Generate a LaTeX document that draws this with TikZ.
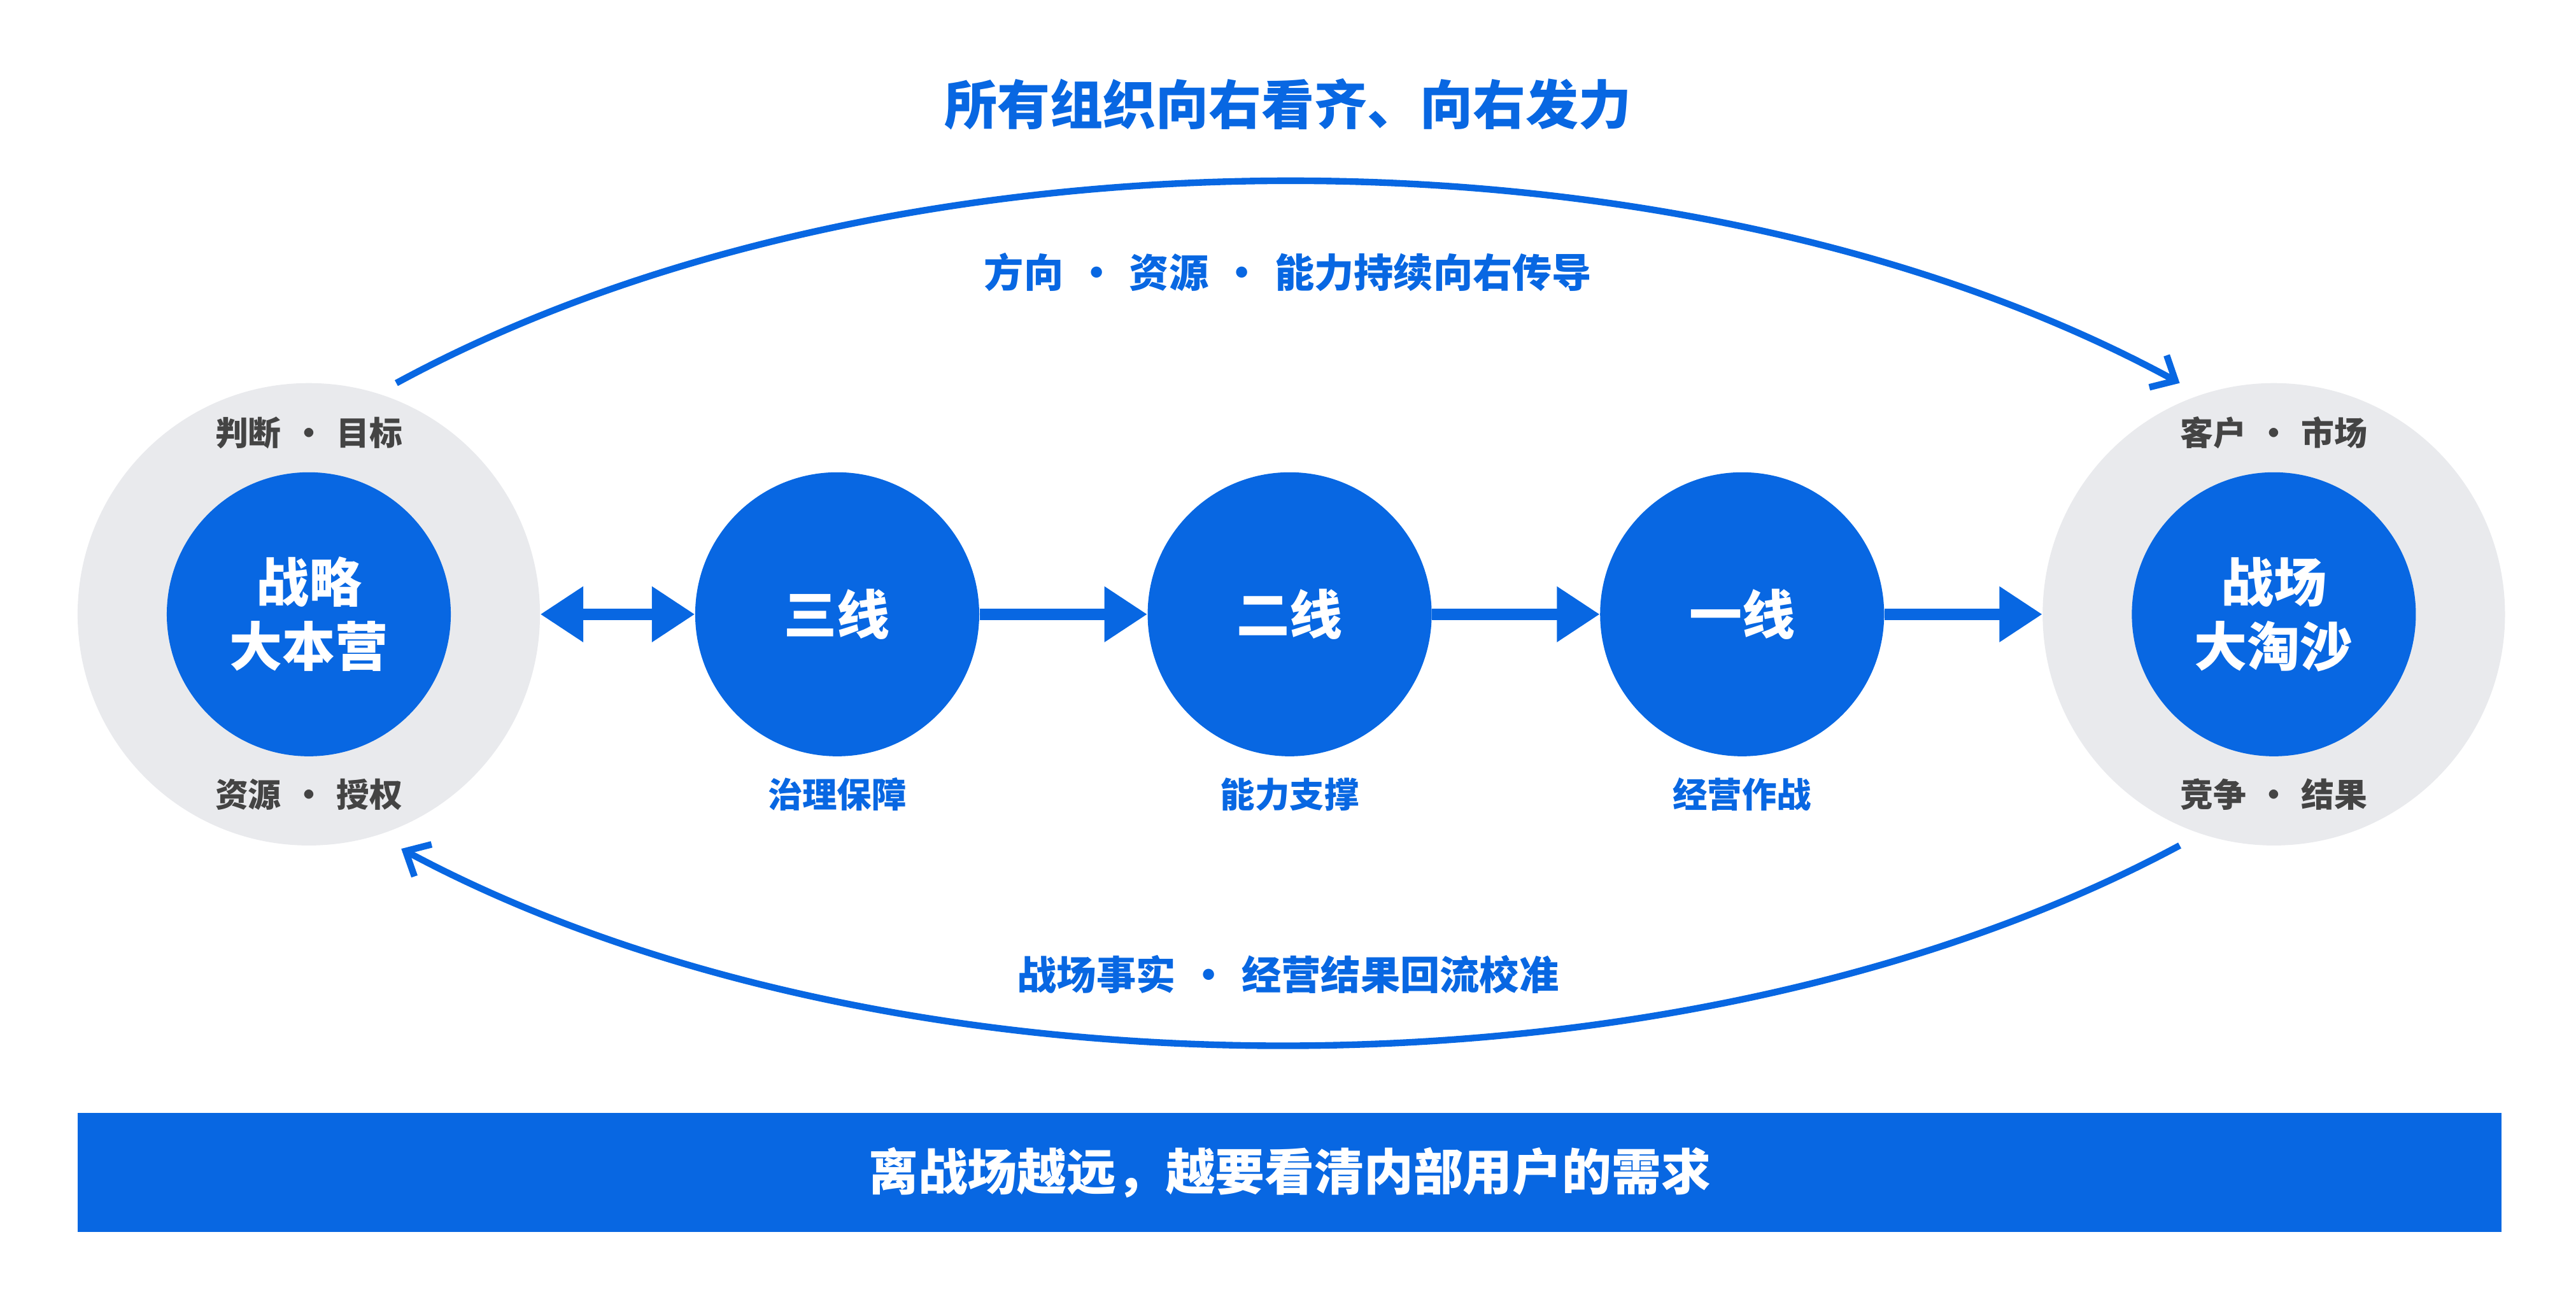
\documentclass[tikz,border=0pt]{standalone}
\usepackage{fontspec}
\setmainfont{Noto Sans CJK SC}
\usetikzlibrary{arrows.meta}
\definecolor{bl}{HTML}{0867E2}
\definecolor{gc}{HTML}{E9EAED}
\definecolor{gt}{HTML}{444444}
\begin{document}
\begin{tikzpicture}[x=1pt,y=-1pt,
  big/.style={circle,fill=gc,minimum size=280pt,inner sep=0},
  blue/.style={circle,fill=bl,minimum size=172pt,inner sep=0,text=white,font=\fontsize{32}{39}\selectfont\bfseries,align=center},
  sub/.style={text=gt,font=\fontsize{20}{23}\selectfont\bfseries},
  bsub/.style={text=bl,font=\fontsize{21}{25}\selectfont\bfseries},
  fat/.style={bl,line width=7pt,-{Triangle[length=26pt,width=32pt]}},
  arc/.style={bl,line width=4pt,-{Straight Barb[length=12pt,width=22pt]}}]
\useasboundingbox (0,0) rectangle (1560,784);
\node[text=bl,font=\fontsize{32}{38}\selectfont\bfseries] (title) at (780,63) {所有组织向右看齐、向右发力};
\node[big] (L) at (187,372) {};
\node[big] (R) at (1377,372) {};
\node[blue] (zl) at (187,372) {战略\\大本营};
\node[blue] (zc) at (1377,372) {战场\\大淘沙};
\node[sub] (l1) at (187,262) {判断\,\,·\,\,目标};
\node[sub] (l2) at (187,481) {资源\,\,·\,\,授权};
\node[sub] (r1) at (1377,262) {客户\,\,·\,\,市场};
\node[sub] (r2) at (1377,481) {竞争\,\,·\,\,结果};
\node[blue] (s3) at (507,372) {三线};
\node[blue] (s2) at (781,372) {二线};
\node[blue] (s1) at (1055,372) {一线};
\node[bsub] at (507,481) {治理保障};
\node[bsub] at (781,481) {能力支撑};
\node[bsub] at (1055,481) {经营作战};
\draw[fat,{Triangle[length=26pt,width=32pt]}-{Triangle[length=26pt,width=32pt]}] (L) -- (s3);
\draw[fat] (s3) -- (s2);
\draw[fat] (s2) -- (s1);
\draw[fat] (s1) -- (R);
\coordinate (a1) at (240,232); \coordinate (a2) at (1320,232);
\coordinate (b1) at (1320,512); \coordinate (b2) at (243,514);
\draw[arc] (a1) .. controls (540,69) and (1020,69) .. (a2);
\draw[arc] (b1) .. controls (1020,673) and (540,673) .. (b2);
\node[bsub,font=\fontsize{24}{28}\selectfont\bfseries] at (780,165) {方向\,\,·\,\,资源\,\,·\,\,能力持续向右传导};
\node[bsub,font=\fontsize{24}{28}\selectfont\bfseries] at (780,590) {战场事实\,\,·\,\,经营结果回流校准};
\node[fill=bl,minimum width=1468pt,minimum height=72pt,inner sep=0,text=white,font=\fontsize{30}{34}\selectfont\bfseries] (bar) at (781,710) {离战场越远，越要看清内部用户的需求};
\end{tikzpicture}
\end{document}
